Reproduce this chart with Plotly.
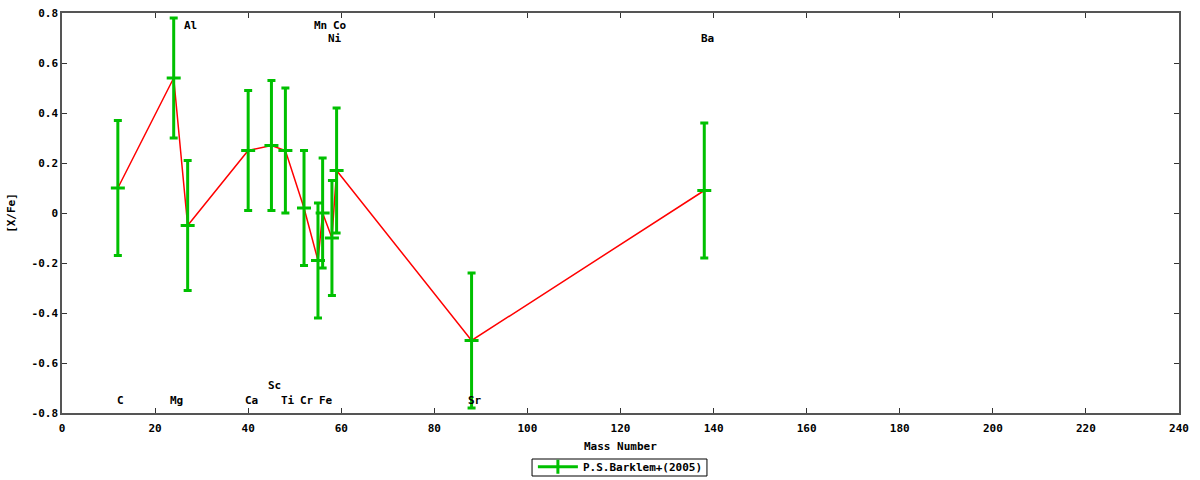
import plotly.graph_objects as go

# ---- data ----
elements = ["C", "Mg", "Al", "Ca", "Sc", "Ti", "Cr", "Mn", "Fe", "Ni", "Co", "Sr", "Ba"]
mass = [12, 24, 27, 40, 45, 48, 52, 55, 56, 58, 59, 88, 138]
xfe = [0.10, 0.54, -0.05, 0.25, 0.27, 0.25, 0.02, -0.19, 0.00, -0.10, 0.17, -0.51, 0.09]
err = [0.27, 0.24, 0.26, 0.24, 0.26, 0.25, 0.23, 0.23, 0.22, 0.23, 0.25, 0.27, 0.27]
label_y = [-0.75, -0.75, 0.75, -0.75, -0.69, -0.75, -0.75, 0.75, -0.75, 0.70, 0.75, -0.75, 0.70]

xticks = [0, 20, 40, 60, 80, 100, 120, 140, 160, 180, 200, 220, 240]
yticks = [-0.8, -0.6, -0.4, -0.2, 0, 0.2, 0.4, 0.6, 0.8]
yticktext = ["-0.8", "-0.6", "-0.4", "-0.2", "0", "0.2", "0.4", "0.6", "0.8"]
x_title = "Mass Number"
y_title = "[X/Fe]"
series_name = "P.S.Barklem+(2005)"

GREEN = "#00c000"
FONT = dict(family="DejaVu Sans Mono", size=11, color="black", weight="bold")

fig = go.Figure()

fig.add_trace(go.Scatter(
    x=mass, y=xfe, mode="lines",
    line=dict(color="red", width=1.5),
    showlegend=False, hoverinfo="skip",
))

fig.add_trace(go.Scatter(
    x=mass, y=xfe, mode="markers",
    name=series_name,
    marker=dict(symbol="line-ew", size=10, color=GREEN, line=dict(color=GREEN, width=3)),
    error_y=dict(type="data", array=err, visible=True, color=GREEN, thickness=3, width=4),
    showlegend=False,
))

# legend entry
fig.add_trace(go.Scatter(
    x=[None], y=[None], mode="lines+markers",
    name=series_name,
    line=dict(color=GREEN, width=3),
    marker=dict(symbol="line-ns", size=10, color=GREEN, line=dict(color=GREEN, width=3)),
))

for el, m, ly in zip(elements, mass, label_y):
    fig.add_annotation(
        x=m, y=ly, text=el, showarrow=False, xanchor="center", yanchor="middle",
        xshift=3, font=FONT,
    )

fig.add_annotation(
    x=0.5, y=-0.0825, xref="paper", yref="paper", text=x_title, showarrow=False,
    xanchor="center", yanchor="middle", font=FONT,
)

# legend frame (gnuplot-style compact box)
fig.add_shape(type="rect", xref="paper", yref="paper",
              x0=0.4208, x1=0.5774, y0=-0.1575, y1=-0.115,
              line=dict(color="black", width=1), layer="above")

axis_common = dict(
    showgrid=False, zeroline=False, showline=True, linecolor="#555", linewidth=1.5,
    mirror="ticks", ticks="inside", ticklen=5, tickcolor="#333", tickfont=FONT,
    automargin=False,
)

fig.update_layout(
    width=1200, height=480,
    margin=dict(l=62, r=21, t=13, b=67),
    plot_bgcolor="white", paper_bgcolor="white",
    font=FONT,
    xaxis=dict(range=[0, 240], tickvals=xticks, ticklabelstandoff=4, **axis_common),
    yaxis=dict(range=[-0.8, 0.8], tickvals=yticks, ticktext=yticktext,
               title=dict(text=y_title, font=FONT, standoff=14), **axis_common),
    legend=dict(x=0.517, xanchor="center", xref="container",
                y=0.058, yanchor="top", yref="container",
                orientation="h", borderwidth=0,
                font=FONT, itemwidth=40, bgcolor="rgba(0,0,0,0)",
                tracegroupgap=0),
    showlegend=True,
)

fig.write_html("out.html", config={"displayModeBar": False},
               post_script="document.body.style.margin='0';")
